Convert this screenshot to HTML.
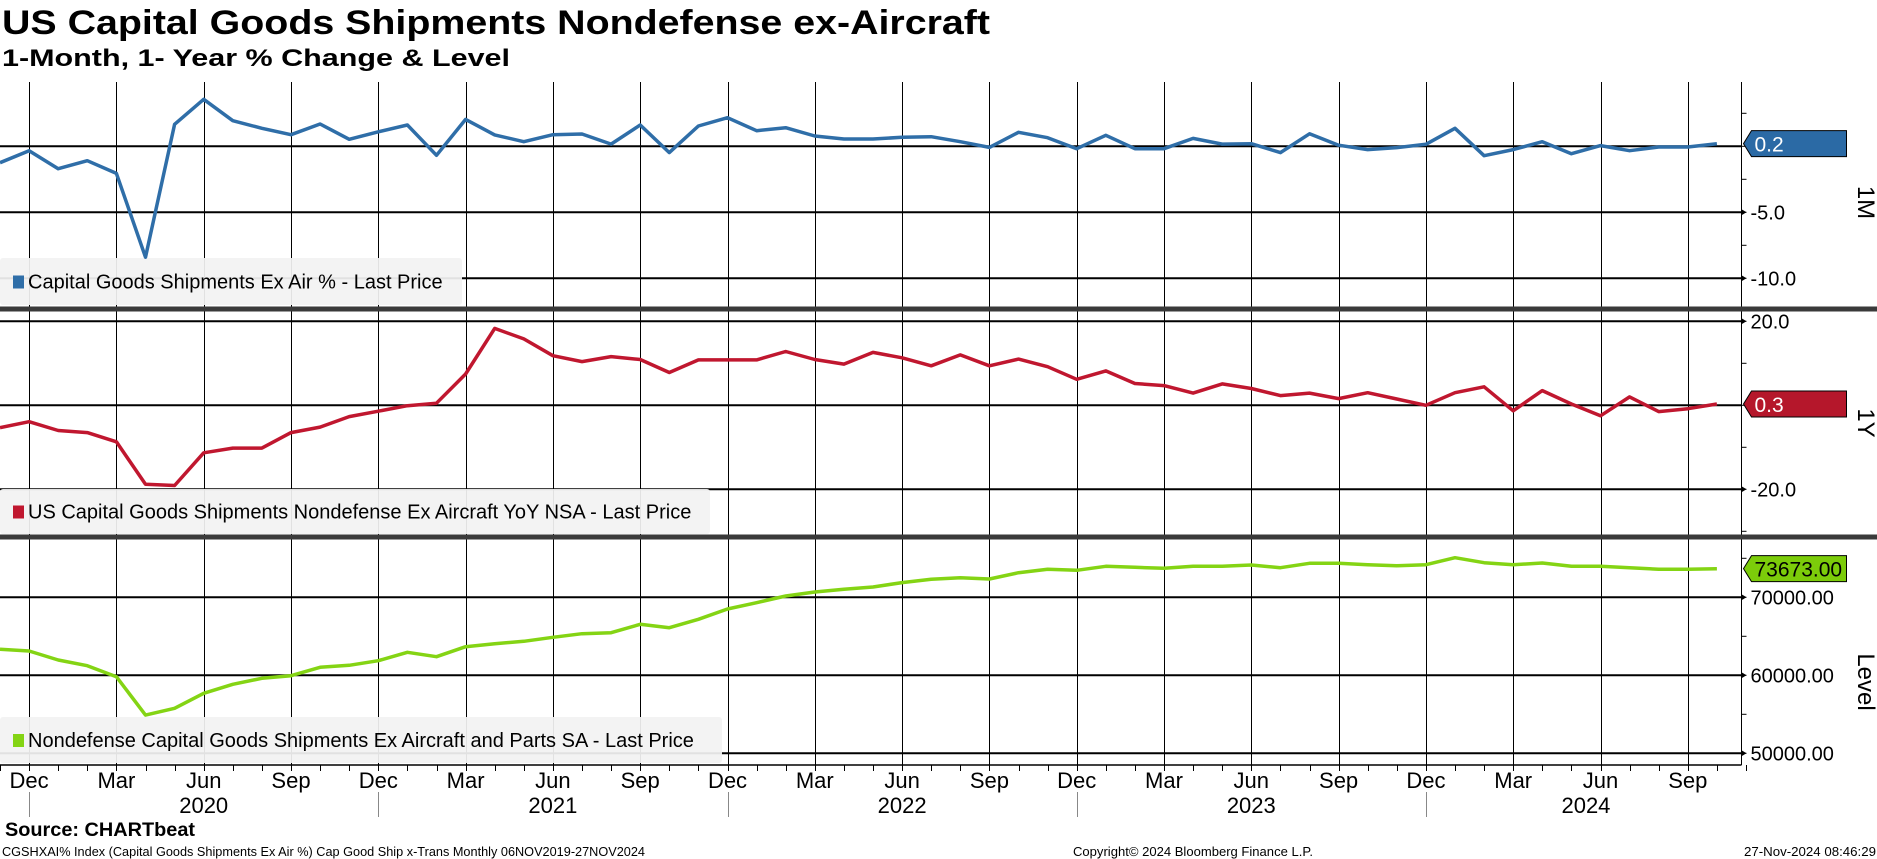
<!DOCTYPE html>
<html><head><meta charset="utf-8">
<style>
html,body{margin:0;padding:0;background:#fff;width:1877px;height:859px;overflow:hidden}
svg text{font-family:"Liberation Sans Narrow","Liberation Sans",sans-serif}
</style></head>
<body>
<svg id="chart" width="1877" height="859" viewBox="0 0 1877 859" xmlns="http://www.w3.org/2000/svg">
<text x="2" y="34" font-size="34" font-weight="bold" style="font-family:'Liberation Sans',sans-serif" textLength="988" lengthAdjust="spacingAndGlyphs">US Capital Goods Shipments Nondefense ex-Aircraft</text>
<text x="2" y="66" font-size="24" font-weight="bold" style="font-family:'Liberation Sans',sans-serif" textLength="508" lengthAdjust="spacingAndGlyphs">1-Month, 1- Year % Change &amp; Level</text>
<g id="grid"></g>
<g id="marks"></g>
<g id="axes"></g>
<text x="5" y="836" font-size="19" font-weight="bold" style="font-family:'Liberation Sans',sans-serif" textLength="190" lengthAdjust="spacingAndGlyphs">Source: CHARTbeat</text>
<text x="2" y="856" font-size="13" textLength="643" lengthAdjust="spacingAndGlyphs">CGSHXAI% Index (Capital Goods Shipments Ex Air %) Cap Good Ship x-Trans  Monthly 06NOV2019-27NOV2024</text>
<text x="1073" y="856" font-size="13" textLength="240" lengthAdjust="spacingAndGlyphs">Copyright© 2024 Bloomberg Finance L.P.</text>
<text x="1876" y="856" font-size="13" text-anchor="end" textLength="132" lengthAdjust="spacingAndGlyphs">27-Nov-2024 08:46:29</text>
</svg>
<script>
// Monthly Nov 2019 .. Oct 2024
const months = ["Nov","Dec","Jan","Feb","Mar","Apr","May","Jun","Jul","Aug","Sep","Oct"];
const startYear = 2019, startMonth = 10; // Nov 2019 (0-based)
const oneMonth = [-1.24,-0.33,-1.7,-1.09,-2.05,-8.4,1.67,3.56,1.94,1.36,0.88,1.69,0.53,1.1,1.61,-0.68,2.04,0.86,0.35,0.88,0.93,0.17,1.61,-0.48,1.54,2.17,1.18,1.41,0.78,0.55,0.55,0.68,0.73,0.35,-0.08,1.06,0.65,-0.18,0.83,-0.18,-0.18,0.6,0.17,0.2,-0.48,0.95,0.08,-0.25,-0.1,0.15,1.36,-0.71,-0.25,0.35,-0.56,0.05,-0.33,-0.05,-0.05,0.2];
const oneYear = [-5.3,-3.9,-6.0,-6.5,-8.7,-18.8,-19.1,-11.3,-10.2,-10.2,-6.5,-5.2,-2.7,-1.4,-0.1,0.5,7.45,18.3,15.8,11.8,10.4,11.6,10.9,7.8,10.8,10.8,10.8,12.8,10.9,9.8,12.6,11.3,9.4,12.0,9.4,11.0,9.2,6.2,8.2,5.2,4.7,2.9,5.1,4.0,2.3,2.9,1.6,3.0,1.5,0.0,3.0,4.4,-1.3,3.5,0.3,-2.5,2.0,-1.5,-0.8,0.3];
const level = [63333,63115,61960,61230,59820,54900,55770,57690,58850,59620,59950,61030,61280,61870,62950,62380,63670,64050,64360,64870,65330,65460,66540,66100,67180,68500,69310,70170,70680,71030,71320,71880,72310,72510,72350,73160,73590,73460,73970,73850,73720,73970,73970,74140,73800,74360,74360,74180,74050,74180,75080,74440,74180,74400,73970,73970,73800,73590,73590,73673];
const ticks1M = [-5.0,-10.0];
const ticks1Y = [20.0,-20.0];
const ticksLevel = [70000,60000,50000];
const lastLabels = ["0.2","0.3","73673.00"];

const svg = document.getElementById('chart');
const NS = "http://www.w3.org/2000/svg";
const gGrid = document.getElementById('grid'), gMarks = document.getElementById('marks'), gAxes = document.getElementById('axes');
function mk(tag, attrs, parent){const e=document.createElementNS(NS,tag);for(const k in attrs)e.setAttribute(k,attrs[k]);parent.appendChild(e);return e;}
const X0 = 0, DX = 29.1, AXR = 1741.5;
const x = i => X0 + i*DX;
const xs = i => Math.round(x(i)) + 0.5;
const panels = [
  {data:oneMonth, top:82, bot:307, y:v=>146.3 - v*13.2, ticks:ticks1M, fmt:v=>v.toFixed(1), color:"#2f6ea8", box:"#2b6aa5", boxText:"#fff", title:"1M", lastLbl:lastLabels[0], zero:true, minor:2.5,
   legend:"Capital Goods Shipments Ex Air % - Last Price", lg:[258,305,462], name:"one-month"},
  {data:oneYear, top:311, bot:535, y:v=>405.3 - v*4.2, ticks:ticks1Y, fmt:v=>v.toFixed(1), color:"#c0172f", box:"#b5172b", boxText:"#fff", title:"1Y", lastLbl:lastLabels[1], zero:true, minor:10,
   legend:"US Capital Goods Shipments Nondefense Ex Aircraft YoY NSA - Last Price", lg:[489,534,710], name:"one-year"},
  {data:level, top:539, bot:765, y:v=>597.3 - (v-70000)*0.0078, ticks:ticksLevel, fmt:v=>v.toFixed(2), color:"#84d414", box:"#7ccc0a", boxText:"#000", title:"Level", lastLbl:lastLabels[2], zero:false, minor:5000,
   legend:"Nondefense Capital Goods Shipments Ex Aircraft and Parts SA - Last Price", lg:[717,763,722], name:"level"}
];
const n = oneMonth.length;
panels.forEach((p,pi)=>{
  for(let i=0;i<n;i++){const m=(startMonth+i)%12; if(m%3===2){
    const l=mk('line',{x1:xs(i),x2:xs(i),y1:p.top,y2:p.bot,stroke:"#000","stroke-width":1},gGrid);
    
    
  }}
  const hs = p.zero ? [0].concat(p.ticks) : p.ticks;
  hs.forEach(v=>{
    const l=mk('line',{x1:0,x2:AXR,y1:p.y(v),y2:p.y(v),stroke:"#000","stroke-width":2},gGrid);
    
    
  });
  for(let v=-100000; v<=100000; v+=p.minor){const yy=p.y(v); if(yy>p.top+2 && yy<p.bot-2){
    const t=mk('line',{x1:AXR,x2:AXR+5,y1:yy,y2:yy,stroke:"#000","stroke-width":1},gAxes);
    
    
  }}
  p.ticks.forEach(v=>{
    const t=mk('text',{x:AXR+9,y:p.y(v)+7,"font-size":20},gAxes);
    t.textContent=p.fmt(v);
    
    
    const a=mk('path',{d:`M${AXR} ${p.y(v)-3} L${AXR+5} ${p.y(v)} L${AXR} ${p.y(v)+3}Z`,fill:"#000"},gAxes);
    
    
  });
  const lgr=mk('rect',{x:0,y:p.lg[0],width:p.lg[2],height:p.lg[1]-p.lg[0],fill:"#f2f2f2","fill-opacity":0.93,rx:3},gMarks);
  
  
  const sq=mk('rect',{x:13,y:(p.lg[0]+p.lg[1])/2-6,width:11,height:13,fill:p.color},gMarks);
  
  
  const lt=mk('text',{x:28,y:(p.lg[0]+p.lg[1])/2+7,"font-size":20},gMarks);
  lt.textContent=p.legend;
  
  
  const pts=p.data.map((v,i)=>x(i).toFixed(1)+","+p.y(v).toFixed(1)).join(" ");
  const pl=mk('polyline',{points:pts,fill:"none",stroke:p.color,"stroke-width":3.5,"stroke-linejoin":"round"},gMarks);
  
  
  const ly=p.y(p.data[n-1]);
  const bx=mk('path',{d:`M${AXR+2} ${ly} L${AXR+10} ${ly-13} L${AXR+105} ${ly-13} L${AXR+105} ${ly+13} L${AXR+10} ${ly+13} Z`,fill:p.box,stroke:"#000","stroke-width":1},gAxes);
  
  
  const bt=mk('text',{x:AXR+13,y:ly+8,"font-size":21,fill:p.boxText},gAxes);
  bt.textContent=p.lastLbl;
  
  
  const cy=(p.top+p.bot)/2 + (pi===0?8:pi===1?0:30);
  const at=mk('text',{x:1858,y:cy,"font-size":24,"text-anchor":"middle",transform:`rotate(90 1858 ${cy})`,style:"font-family:'Liberation Sans',sans-serif"},gAxes);
  at.textContent=p.title;
  
  
});
const ax=mk('line',{x1:AXR,x2:AXR,y1:82,y2:765,stroke:"#000","stroke-width":1},gAxes);


[309,537].forEach(yy=>{
  const s=mk('rect',{x:0,y:yy-2.5,width:1877,height:5,fill:"#3a3a3a"},gAxes);
  
  
});
const bl=mk('line',{x1:0,x2:AXR,y1:765,y2:765,stroke:"#000","stroke-width":1.5},gAxes);


for(let i=0;i<n+1;i++){
  const m=(startMonth+i)%12;
  const t=mk('line',{x1:xs(i),x2:xs(i),y1:765,y2:771,stroke:"#000","stroke-width":1},gAxes);
  
  
  if(i<n && m%3===2){
    const lb=mk('text',{x:x(i),y:788,"font-size":22,"text-anchor":"middle"},gAxes);
    lb.textContent=["Mar","Jun","Sep","Dec"][(m-2)/3];
    
    
  }
  if(i<n && m===11){
    const sp=mk('line',{x1:xs(i),x2:xs(i),y1:792,y2:817,stroke:"#888","stroke-width":1},gAxes);
    
    
  }
}
const years=["2020","2021","2022","2023","2024"];
const yearCenterIdx=[7,19,31,43,54.5];
years.forEach((yl,k)=>{
  const t=mk('text',{x:x(yearCenterIdx[k]),y:813,"font-size":22,"text-anchor":"middle"},gAxes);
  t.textContent=yl;
  
  
});
</script>
</body></html>
